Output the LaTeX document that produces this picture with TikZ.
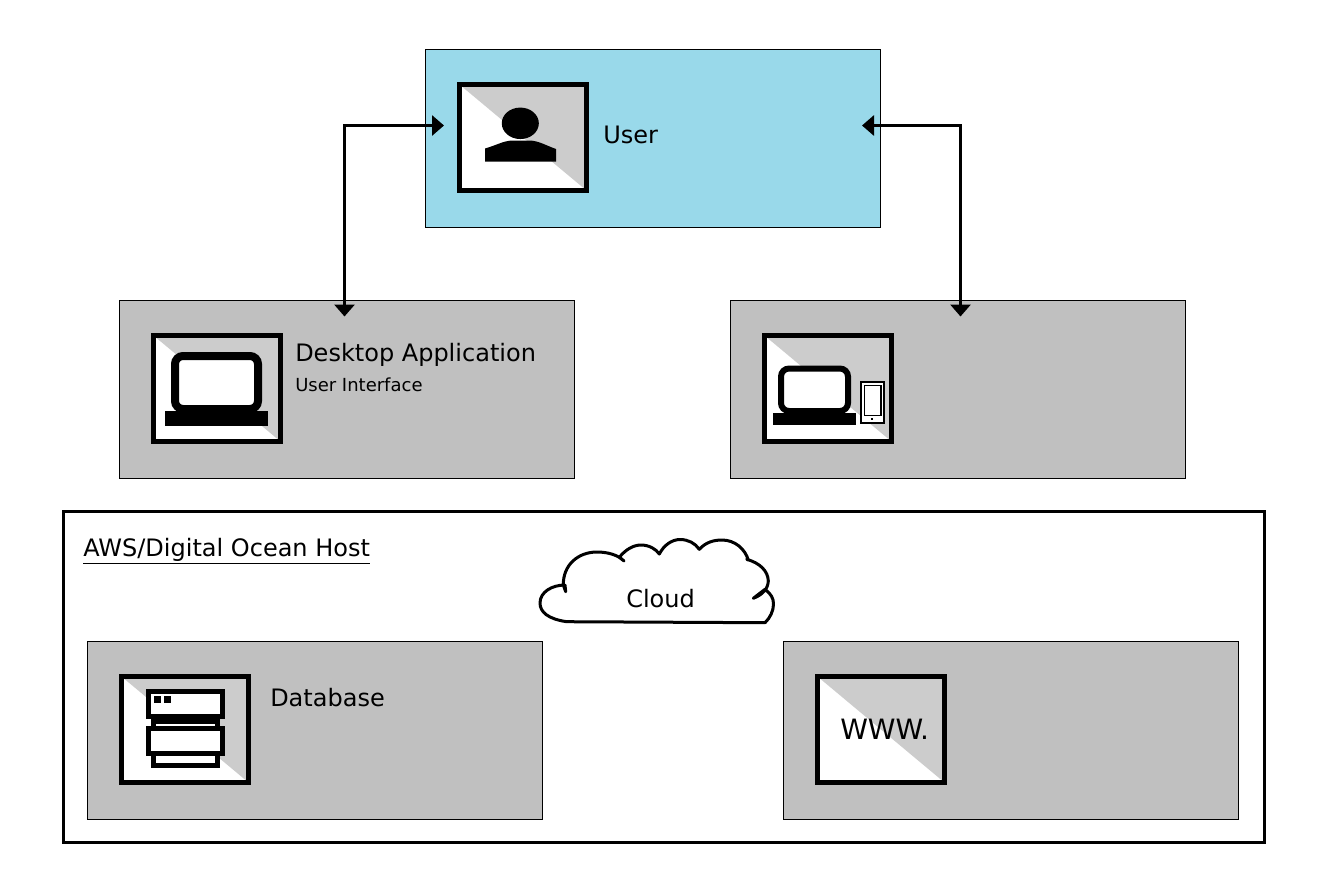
\documentclass[tikz,border=0pt]{standalone}
\usepackage{fontspec}
\setmainfont{DejaVu Sans}
\usetikzlibrary{arrows.meta}
\definecolor{userblue}{HTML}{99D9EA}
\definecolor{panelgrey}{HTML}{C0C0C0}
\definecolor{icongrey}{HTML}{CCCCCC}
\begin{document}
\begin{tikzpicture}[
        x=0.75pt, y=-0.75pt,
        panel/.style={draw, line width=0.75pt, fill=panelgrey, minimum width=341.25pt, minimum height=133.5pt, inner sep=0pt}, % Серые блоки
        userpanel/.style={panel, fill=userblue},
        hostbox/.style={draw, line width=2.25pt, fill=white, minimum width=900.75pt, minimum height=248.25pt, inner sep=0pt},
        iconframe/.style={draw, line width=3.75pt, fill=white, minimum width=95.25pt, minimum height=79.5pt, inner sep=0pt,
                path picture={\fill[icongrey] (path picture bounding box.north west) -- (path picture bounding box.north east) -- (path picture bounding box.south east) -- cycle;}},
        label/.style={anchor=base west, inner sep=0pt, font=\fontsize{18pt}{20pt}\selectfont},
        smalllabel/.style={anchor=base west, inner sep=0pt, font=\fontsize{13.5pt}{15pt}\selectfont},
        link/.style={line width=2.25pt, {Triangle[length=9pt,width=15pt]}-{Triangle[length=9pt,width=15pt]}},
        screen/.style={draw, line width=#1, fill=white, rounded corners=6pt},
        unit/.style={draw, line width=3.75pt, fill=white},
    ]
    \useasboundingbox (0,0) rectangle (1318,894);
    \fill[white] (0,0) rectangle (1318,894);

    % Блоки
    \node[userpanel] (user) at (652.5,138) {};
    \node[panel] (desktop) at (346.5,389) {};
    \node[panel] (mobile) at (957.5,389) {};
    \node[hostbox] (host) at (663.5,676.5) {};
    \node[panel] (database) at (314.5,730) {};
    \node[panel] (website) at (1010.5,730) {};

    % Иконки
    \node[iconframe] (usericon) at (523,137.5) {};
    \node[iconframe] (desktopicon) at (217,388.5) {};
    \node[iconframe] (mobileicon) at (828,388.5) {};
    \node[iconframe] (databaseicon) at (185,729.5) {};
    \node[iconframe] (websiteicon) at (881,729.5) {};

    % Пользователь
    \fill (520.3,123.3) ellipse [x radius=13.9pt, y radius=11.8pt];
    \fill (485,161.7) -- (485,148.5) .. controls (497,145) and (503,141) .. (512,140.5) -- (530,140.5) .. controls (539,141) and (545,145) .. (556,149) -- (556,161.7) -- cycle;

    % Компьютер
    \draw[screen=6pt] (175,356) rectangle (258,409);
    \fill (165,411) rectangle (268,426);

    % Компьютер и телефон
    \draw[screen=4.5pt] (781,368.5) rectangle (848,411);
    \fill (773,413) rectangle (856,425);
    \fill (860,381) rectangle (885,424);
    \fill[white] (862,383) rectangle (883,422);
    \fill (863.5,384.5) rectangle (881.5,416);
    \fill[white] (865,386) rectangle (880,415);
    \fill (871,418) rectangle (873,420);

    % База данных
    \draw[unit] (153.5,721.5) rectangle (217.5,765.5);
    \draw[unit] (148.5,691.5) rectangle (222.5,716.5);
    \draw[unit] (148.5,728.5) rectangle (222.5,753.5);
    \fill (154,696) rectangle (161,703);
    \fill (164,696) rectangle (171,703);

    % Облако
    \draw[line width=2.25pt, fill=white, line join=round] (566.7,621.7) .. controls (548,619) and (540,612) .. (540,603)
        .. controls (540,592) and (552,585) .. (565,585) -- (565.7,591.7) -- (563.3,585)
        .. controls (563,565) and (578,552) .. (597,552) .. controls (608,552) and (618,555) .. (624,561) -- (619.3,557.3)
        .. controls (626,549) and (634,545) .. (641,545) .. controls (649,545) and (656,549) .. (659.3,554)
        .. controls (664,545) and (672,539.5) .. (680,539.5) .. controls (688,539.5) and (695,543) .. (699.3,549.3)
        .. controls (706,542) and (714,540) .. (722,540) .. controls (735,540) and (745,549) .. (748.3,560) -- (746.7,559.3)
        .. controls (760,563) and (768,571) .. (768.3,581) .. controls (768,589) and (762,595) .. (753.3,598.3) -- (765,589.3)
        .. controls (771,594) and (773.5,598) .. (773.5,604) .. controls (773.5,611) and (770,618) .. (765,622.7)
        -- cycle;

    % Подписи
    \node[label] (usertext) at (603,143) {User};
    \node[label] (desktoptext) at (295,361) {Desktop Application};
    \node[smalllabel] (desktopsub) at (295,391.5) {User Interface};
    \node[label] (hosttext) at (83,556) {\underline{AWS/Digital Ocean Host}};
    \node[label] (cloudtext) at (626,607.5) {Cloud};
    \node[label] (databasetext) at (270,706) {Database};
    \node[label, font=\fontsize{21pt}{23pt}\selectfont] (websitetext) at (840,739) {WWW.};

    % Стрелки
    \coordinate (userleft) at (444,125.5);
    \coordinate (userright) at (862,125.5);
    \coordinate (desktoptop) at (344.5,316.5);
    \coordinate (mobiletop) at (960.5,316.5);
    \draw[link] (userleft) -| (desktoptop);
    \draw[link] (userright) -| (mobiletop);
\end{tikzpicture}
\end{document}
